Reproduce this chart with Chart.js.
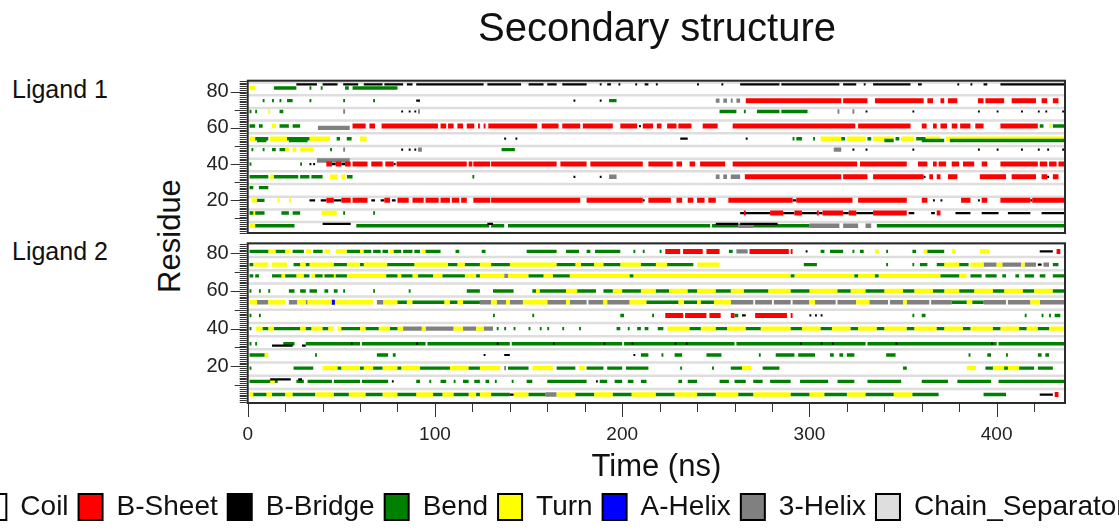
<!DOCTYPE html>
<html><head><meta charset="utf-8">
<script src="https://cdn.jsdelivr.net/npm/chart.js@4"></script>
<style>
html,body{margin:0;padding:0;width:1119px;height:529px;overflow:hidden;background:#fff;font-family:"Liberation Sans",Arial,sans-serif;color:#111;}
#w1{position:absolute;left:180px;top:0;width:954px;height:238px;}
#w2{position:absolute;left:-70px;top:238px;width:1248px;height:293px;}
.lbl{position:absolute;font-size:25px;white-space:nowrap;}
#res{position:absolute;left:170px;top:236px;transform:translate(-50%,-50%) rotate(-90deg);font-size:31px;white-space:nowrap;}
</style></head>
<body>
<div class="lbl" style="left:12px;top:75px">Ligand 1</div>
<div class="lbl" style="left:12px;top:237px">Ligand 2</div>
<div id="res">Residue</div>
<div id="w1"><canvas id="c1"></canvas></div>
<div id="w2"><canvas id="c2"></canvas></div>
<script>
// ---------------- DATA ----------------
const TITLE = 'Secondary structure';
const TIME_MAX = 436.5;
const X_TICKS = [0, 100, 200, 300, 400];
const Y_TICKS = [20, 40, 60, 80];
const SEPARATORS = [8, 15, 22, 29, 36, 43, 50, 57, 64, 71, 78, 85];
const CLASS_NAMES = ['Coil', 'B-Sheet', 'B-Bridge', 'Bend', 'Turn', 'A-Helix', '3-Helix', 'Chain_Separator'];
const CLASS_CODES = ['C', 'E', 'B', 'S', 'T', 'H', 'G', 'SEP'];

// Ligand 1: segments [start ns, end ns, DSSP code]
const L1_84 = [[26,37,'B'],[40,48,'B'],[51,59,'B'],[62,72,'B'],[73,83,'B'],[85,88,'B'],[90,126,'B'],[128,146,'B'],[150,158,'B'],[160,165,'B'],[168,181,'B'],[188,189,'B'],[192,194,'B'],[198,199,'B'],[207,208,'B'],[212,214,'B'],[218,219,'B'],[240,241,'B'],[253,254,'B'],[263,284,'B'],[285,316,'B'],[318,325,'B'],[329,330,'B'],[334,354,'B'],[358,360,'B'],[379,380,'B'],[386,387,'B'],[393,395,'B'],[402,436,'B']];
const L1_82 = [[1,4,'T'],[14,26,'S'],[33,34,'S'],[39,40,'S'],[52,54,'S'],[56,80,'S']];
const L1_75 = [[8,9,'S'],[13,14,'S'],[17,18,'S'],[21,24,'S'],[33,34,'S'],[51,52,'S'],[67,68,'S'],[90,92,'B'],[174,175,'B'],[188,189,'B'],[193,197,'S'],[250,252,'G'],[254,256,'G'],[258,259,'G'],[261,263,'G'],[266,317,'E'],[318,331,'E'],[335,361,'E'],[363,366,'E'],[370,372,'E'],[374,379,'E'],[390,393,'E'],[394,404,'E'],[408,421,'E'],[424,427,'E'],[430,433,'E']];
const L1_69 = [[1,2,'S'],[4,5,'S'],[11,12,'T'],[17,19,'S'],[51,52,'G'],[82,83,'B'],[86,87,'B'],[89,90,'B'],[91,92,'G'],[252,261,'S'],[265,266,'S'],[272,284,'S'],[285,299,'S'],[315,316,'G'],[323,324,'G'],[330,331,'B'],[355,356,'B'],[390,391,'B'],[400,401,'B'],[413,414,'B'],[422,423,'B'],[426,427,'B'],[435,436,'B']];
const L1_61 = [[1,4,'S'],[6,8,'S'],[13,15,'T'],[17,22,'S'],[24,28,'S'],[56,63,'E'],[65,68,'E'],[71.5,101.6,'E'],[103,106,'E'],[107,110,'E'],[112,115,'E'],[117,121,'E'],[123,124,'E'],[126,127,'E'],[128.5,154.6,'E'],[157,166,'E'],[168,177.6,'E'],[179,195,'E'],[199,208,'E'],[209,210,'B'],[211,216.5,'E'],[218.5,221,'E'],[224,229,'E'],[230,237,'E'],[243,251,'E'],[259,324.5,'E'],[326,354,'E'],[360,362.6,'E'],[366,368,'E'],[370,373.5,'E'],[376,379,'E'],[380.5,386,'E'],[388.6,393,'E'],[402,422,'E'],[423,425,'S'],[428,429,'T'],[430,436,'S']];
const L1_60 = [[37.5,54.5,'G']];
const L1_54 = [[1,4,'T'],[4,11,'S'],[12,21,'T'],[21,33,'S'],[33,44,'T'],[47.5,49.3,'S'],[52.9,55.5,'S'],[60,63.5,'T'],[137,138,'B'],[143,144,'B'],[231,235,'B'],[266,267,'B'],[291,292,'S'],[293,296,'S'],[302,303,'S'],[306,317,'T'],[317,319,'S'],[320,330,'T'],[331,333,'S'],[334,345,'T'],[346,348,'S'],[349,356,'T'],[357,362,'S'],[362,370,'T'],[373,436,'T']];
const L1_53 = [[5,10,'S'],[22,32,'S'],[340,345,'S'],[360,372,'S'],[375,436,'S']];
const L1_48 = [[2,3,'S'],[8,9,'S'],[13,15,'S'],[17,20,'S'],[20,22,'T'],[24,26,'T'],[28,35,'T'],[44,45,'S'],[51,52,'G'],[82,83,'B'],[86,87,'B'],[89,90,'B'],[91,93,'G'],[135.6,142.7,'S'],[313,317,'G'],[323,324,'B'],[330,331,'B'],[355,356,'B'],[390,391,'B'],[400,401,'B'],[413,414,'B'],[422,423,'B'],[427,428,'B'],[435,436,'B']];
const L1_42 = [[37,54.5,'G']];
const L1_40 = [[1,2,'S'],[28,29,'S'],[33,34,'B'],[35,36,'B'],[42,45,'E'],[45,47,'B'],[47,50,'E'],[50,52,'B'],[52,55,'E'],[56,64,'E'],[66,72,'E'],[73.5,78,'E'],[78,79,'B'],[79.5,117,'E'],[118,120,'E'],[120.5,129.5,'E'],[130,165,'E'],[167,181,'E'],[183,211,'E'],[214,227,'E'],[229,232,'E'],[236,239,'E'],[241.6,255,'E'],[259,325.5,'E'],[327,352,'E'],[358,363,'E'],[366,368,'E'],[369,373,'E'],[376,380,'E'],[382,388,'E'],[392,395,'E'],[402,422,'E'],[423,427,'E'],[428,432,'E'],[433,436,'E']];
const L1_33 = [[1,11,'S'],[12,14,'T'],[14,27,'S'],[28,33,'S'],[34,40,'S'],[44,48,'T'],[50,52,'T'],[53,56,'S'],[120,121,'S'],[174,175,'B'],[188,189,'B'],[193,197,'G'],[250,252,'G'],[254,256,'G'],[258,263,'G'],[265.5,317,'E'],[318,331,'E'],[334,361,'E'],[361,362,'B'],[364,366,'E'],[368,370,'E'],[374,379,'E'],[391,405,'E'],[408,421,'E'],[424,427,'E'],[427,428,'B'],[430,433,'E']];
const L1_27 = [[1,3,'S'],[6,11,'S']];
const L1_20 = [[2,5,'T'],[5,9,'S'],[16,17,'T'],[22,23,'T'],[33,36,'B'],[39,42,'B'],[42,46,'E'],[46,50,'B'],[50,55,'E'],[56,64,'E'],[66,68,'B'],[71,73,'B'],[73,76,'E'],[77,79,'B'],[80,86,'E'],[88,94,'E'],[95,102,'E'],[103,108,'E'],[109,113,'E'],[114,117,'E'],[120.5,129.5,'E'],[130,177.6,'E'],[181,211,'E'],[211,212,'B'],[214,226,'E'],[229,232,'E'],[235,238,'E'],[240,244,'E'],[246,250,'E'],[256.7,291,'E'],[291,293,'B'],[293,323,'E'],[326,352,'E'],[360,363,'E'],[366,367,'B'],[370,371,'B'],[381,386,'E'],[390,391,'B'],[392,395,'E'],[402,418,'E'],[418,419,'B'],[419,436,'E']];
const L1_13 = [[1,3,'S'],[3,4,'T'],[4,9,'S'],[18,22,'S'],[24,28,'S'],[39.5,47.5,'T'],[51,52,'S'],[67,68,'S'],[263,279,'B'],[265,266,'E'],[279,286,'E'],[286,292,'B'],[292,296,'E'],[296,304,'B'],[304,305,'E'],[305,307,'B'],[307,318,'E'],[318,321,'B'],[321,325,'E'],[325,334,'B'],[334,352,'E'],[353,356,'B'],[365,367,'B'],[368,370,'E'],[378,386,'B'],[392,401,'B'],[406,418,'B'],[424,436,'B']];
const L1_7 = [[40,55,'B'],[128,131,'B'],[250,262,'B'],[263,283,'B']];
const L1_6 = [[1,4,'T'],[4,25,'S'],[58,129,'S'],[130,137,'S'],[139,247,'S'],[248,262,'S'],[262,270,'G'],[270,300,'S'],[300,316,'G'],[318,326,'G'],[330,333,'G'],[336,436,'S']];

// Ligand 2
const L2_81 = [[1,11,'S'],[11,15,'T'],[15,20,'S'],[20,23,'T'],[24,30,'S'],[31,34,'T'],[35,40,'S'],[41,44,'T'],[47,53,'T'],[53,60,'S'],[60,62,'T'],[62,66,'S'],[67,71,'S'],[72,75,'S'],[76,78,'T'],[78,82,'S'],[83,88,'S'],[89,92,'S'],[93,95,'T'],[95,103,'S'],[111,113,'S'],[125,127,'S'],[149,165,'S'],[170,177,'S'],[181,183,'S'],[185.5,199,'S'],[206,207,'S'],[211,212,'S'],[220,221,'S'],[223,231,'E'],[232.5,243,'E'],[245,252,'E'],[257,259,'S'],[261,267,'G'],[268,289,'E'],[290,291,'E'],[298,299,'B'],[306,308,'S'],[311,318,'S'],[323,324,'S'],[327,329,'S'],[335,337,'T'],[341,342,'S'],[355,357,'S'],[361,363,'T'],[363,372,'S'],[376,378,'T'],[391,396,'T'],[423,430,'B'],[432,434,'E']];
const L2_74 = [[1,3,'S'],[3.5,11,'T'],[13,21,'T'],[24.5,28,'S'],[28,31,'T'],[31,33,'S'],[33,46,'T'],[46,53,'S'],[53,60,'T'],[60,62,'S'],[62,74.5,'T'],[74.5,89,'S'],[89,107,'T'],[107,112,'S'],[112,116,'T'],[116,124,'S'],[124,130,'T'],[130,140,'S'],[140,165,'T'],[165,175,'S'],[175,178,'T'],[178,185,'S'],[185,190,'T'],[190,199,'S'],[199,210,'T'],[210,218,'S'],[218,224,'T'],[224,238,'S'],[240,252,'T'],[297,304,'S'],[341,342,'S'],[355,356,'S'],[359,363,'S'],[368,372,'S'],[372,380,'T'],[380,385,'S'],[386,393,'T'],[393,400,'G'],[400,403,'T'],[403,413,'G'],[413,415,'T'],[415,421,'G'],[422,424,'B'],[425,428,'G'],[430,433,'S']];
const L2_68 = [[1,3,'S'],[4,6,'S'],[13,18,'S'],[18,20,'T'],[20,26,'S'],[26,30,'T'],[30,33,'S'],[34,36,'T'],[36,40,'S'],[40,41,'T'],[41,46,'S'],[46,47,'T'],[47,53,'S'],[53,74,'T'],[74,80,'S'],[80,82,'T'],[82,88,'S'],[88,91,'T'],[91,99,'S'],[99,104,'T'],[104,116,'S'],[116,122,'T'],[122,124,'S'],[124,137,'T'],[137,139,'G'],[139,150,'T'],[150,158,'S'],[158,163,'T'],[163,172,'S'],[172,204,'T'],[204,206,'S'],[206,290,'T'],[290,292,'S'],[292,324,'T'],[324,326,'S'],[326,335,'T'],[335,337,'S'],[337,370,'T'],[370,380,'S'],[380,384,'T'],[386,392,'S'],[394,400,'S'],[403,405,'S'],[410,412,'S'],[415,420,'S'],[423,426,'S'],[430,436,'S']];
const L2_60 = [[1,2,'S'],[6,7,'S'],[11,12,'S'],[22,25,'S'],[28,31,'S'],[33,37,'S'],[41,43,'S'],[46,48,'S'],[51,52,'S'],[67,68,'S'],[86,87,'S'],[117,124,'S'],[131,142,'S'],[152,154,'S'],[154,156,'T'],[156,170,'S'],[170,176,'T'],[176,186,'S'],[190,195,'S'],[195,200,'T'],[200,210,'S'],[210,218,'T'],[218,225,'S'],[225,235,'T'],[235,240,'S'],[240,250,'T'],[250,258,'S'],[258,265,'T'],[265,278,'S'],[278,290,'T'],[290,300,'S'],[300,315,'T'],[315,322,'S'],[322,330,'T'],[330,340,'S'],[340,350,'T'],[350,356,'S'],[356,366,'T'],[366,372,'S'],[372,380,'T'],[380,388,'S'],[388,398,'T'],[398,404,'S'],[404,414,'T'],[414,420,'S'],[420,430,'T'],[430,436,'S']];
const L2_54 = [[1,5,'T'],[5,11,'G'],[11,20,'T'],[22,26.5,'G'],[26.5,31,'T'],[31,32,'G'],[32,44.8,'T'],[44.8,46.6,'H'],[46.6,67,'T'],[69,72.5,'G'],[72.5,80,'T'],[80,85,'S'],[85,88,'T'],[88,105,'S'],[105,108,'T'],[108,112,'S'],[112,115,'T'],[115,124,'S'],[124,130,'G'],[130,133,'T'],[133,138,'G'],[138,140,'T'],[140,147,'G'],[147,160,'T'],[160,170,'G'],[170,172,'T'],[172,181,'G'],[182,190,'G'],[190,192,'T'],[192,204,'G'],[204,213,'T'],[213,230,'S'],[230,233,'T'],[233,240,'S'],[240,242,'T'],[242,249,'S'],[249,258,'T'],[258,270,'G'],[271,280,'G'],[281,290,'G'],[291,300,'G'],[300,303,'T'],[303,314,'G'],[315,325,'G'],[325,332,'T'],[332,342,'G'],[343,350,'G'],[350,352,'T'],[352,364,'G'],[365,376,'G'],[376,384,'S'],[384,387,'T'],[387,393,'S'],[393,405,'G'],[406,418,'G'],[418,423,'T'],[423,436,'G']];
const L2_47 = [[1,2,'S'],[6,7,'S'],[131,132,'S'],[152,153,'S'],[199,201,'S'],[216,217,'S'],[223,232.6,'E'],[233.6,245,'E'],[246.6,252.6,'E'],[258,260,'E'],[260,262,'S'],[264,266,'B'],[271,288,'E'],[290,291,'E'],[300,301,'B'],[303,304,'B'],[306,307,'B'],[355,356,'S'],[360,362,'S'],[415,416,'S'],[424,425,'S'],[428,429,'S'],[431,434,'S']];
const L2_40 = [[1,2,'S'],[4.5,8,'T'],[8,11,'S'],[11,14,'T'],[14,28,'S'],[28,31,'T'],[31,34,'S'],[34,40,'T'],[40,43,'S'],[43,46,'T'],[48,50,'T'],[50,60,'S'],[60,63,'T'],[63,70,'S'],[70,76,'T'],[76,80,'S'],[80,83,'T'],[83,93,'G'],[93,95,'T'],[95,110,'G'],[110,115,'T'],[115,122,'G'],[122,126,'T'],[126,131,'G'],[133,134,'S'],[137,138,'S'],[142,143,'S'],[150,151,'S'],[156,157,'S'],[160,161,'S'],[168,169,'S'],[177,178,'S'],[197,199,'S'],[203,204,'S'],[208,210,'S'],[212,214,'S'],[219,222,'S'],[224,236,'T'],[236,242,'S'],[242,250,'T'],[250,256,'S'],[256,266,'T'],[266,274,'S'],[274,290,'T'],[290,296,'S'],[296,306,'T'],[306,312,'S'],[312,322,'T'],[322,326,'S'],[326,336,'T'],[336,340,'S'],[340,352,'T'],[352,356,'S'],[356,368,'T'],[368,372,'S'],[372,382,'T'],[382,386,'S'],[386,398,'T'],[398,402,'S'],[402,412,'T'],[412,416,'S'],[416,422,'T'],[422,428,'S'],[428,436,'T']];
const L2_32 = [[1,2,'S'],[4,5,'S'],[19,25,'S'],[31,60,'S'],[61,95,'S'],[96,140,'S'],[141,200,'S'],[201,260,'S'],[261,330,'S'],[331,400,'S'],[401,436,'S'],[55,56,'B'],[90,91,'B'],[133,134,'B'],[163,164,'B'],[190,191,'B'],[205,206,'B'],[228,229,'B'],[234,235,'B'],[295,296,'B'],[306,307,'B'],[312,313,'B'],[346,347,'B'],[397,398,'B']];
const L2_31 = [[13,24,'B'],[29,31,'B']];
const L2_26 = [[1,9,'S'],[9,11,'T'],[36,37,'S'],[69,75,'S'],[77.5,79,'S'],[126,127,'B'],[137,140,'B'],[206,207,'B'],[210,214,'S'],[221,222,'S'],[228,232,'S'],[245,253,'S'],[273,274,'S'],[282,292,'S'],[294,303,'S'],[311,313,'S'],[316,318,'S'],[320,324,'S'],[341,346,'S'],[385,386,'S'],[395,397,'S'],[405,406,'S'],[422,424,'S'],[426,428,'S']];
const L2_19 = [[1,2,'S'],[24.5,35,'S'],[40,48,'T'],[48,50,'S'],[50,60,'T'],[60,62,'S'],[62,67,'T'],[67,72,'S'],[72,80,'T'],[80,82,'S'],[82,92,'T'],[92,108,'S'],[108,118,'T'],[118,124,'S'],[124,135,'T'],[137,138,'G'],[139,150,'S'],[152,163,'T'],[165,175,'S'],[177,180,'T'],[181,190,'S'],[192,200,'S'],[202,214,'S'],[231,232,'S'],[248,249,'S'],[258,264,'S'],[264,269,'T'],[275,284,'S'],[350,352,'S'],[384,389,'T'],[394,398,'S'],[398,412,'T'],[404,406,'S'],[412,420,'S'],[422,430,'S']];
const L2_13 = [[12,23,'B'],[27,29,'B']];
const L2_12 = [[1,12,'S'],[12,14.5,'T'],[14.5,16,'S'],[26,30,'S'],[32,45,'S'],[46,60,'S'],[61,75,'S'],[77,78,'B'],[90,92,'S'],[97,98,'S'],[103,106,'S'],[110,111,'S'],[115,118,'S'],[121,124,'S'],[127,129,'S'],[132,133,'S'],[141,142,'S'],[149,152,'S'],[160,181,'S'],[186,187,'B'],[188,192,'S'],[196,200,'S'],[203,206,'S'],[210,213,'S'],[230,232,'S'],[235,240,'S'],[252,257,'S'],[260,266,'S'],[270,275,'S'],[279,290,'S'],[295,310,'S'],[315,324,'S'],[331,349,'S'],[360,374,'S'],[379,397,'S'],[401,436,'S']];
const L2_5 = [[1,3,'T'],[3,10,'S'],[10,13,'T'],[13,20,'S'],[20,24,'T'],[24,36,'S'],[36,46,'T'],[46,54,'S'],[54,63,'T'],[63,72,'S'],[72,80,'T'],[80,90,'S'],[90,99,'T'],[99,104,'S'],[104,110,'T'],[110,118,'S'],[118,122,'T'],[122,124,'S'],[124,130,'T'],[130,140,'S'],[140,142,'B'],[142,150,'T'],[150,159,'S'],[159,165,'G'],[165,175,'T'],[175,185,'S'],[185,195,'T'],[195,205,'S'],[205,218,'T'],[218,228,'S'],[228,240,'T'],[240,250,'S'],[250,262,'T'],[262,270,'S'],[270,290,'T'],[290,300,'S'],[300,308,'T'],[308,320,'S'],[320,330,'T'],[330,345,'S'],[345,355,'T'],[355,369,'S'],[393,405,'S'],[423,430,'B'],[431,433,'E']];

// residue -> segment list
const LIGAND1_ROWS = [[84,L1_84],[82,L1_82],[75,L1_75],[69,L1_69],[61,L1_61],[60,L1_60],[54,L1_54],[53,L1_53],[48,L1_48],[42,L1_42],[40,L1_40],[33,L1_33],[27,L1_27],[20,L1_20],[13,L1_13],[7,L1_7],[6,L1_6]];
const LIGAND2_ROWS = [[81,L2_81],[74,L2_74],[68,L2_68],[60,L2_60],[54,L2_54],[47,L2_47],[40,L2_40],[32,L2_32],[31,L2_31],[26,L2_26],[19,L2_19],[13,L2_13],[12,L2_12],[5,L2_5]];

// ---------------- STYLE ----------------
const FONT = '"Liberation Sans", Arial, sans-serif';
const COLORS = {C:'#ffffff',E:'#ff0000',B:'#000000',S:'#008000',T:'#ffff00',H:'#0000ff',G:'#808080',SEP:'#dedede'};
const THICK = {C:4,E:5,B:2.2,S:3.4,T:4.4,H:5,G:4.4,SEP:2.5};

Chart.defaults.font.family = FONT;
Chart.defaults.color = '#222';

const framePlugin = {
  id: 'frame',
  afterDatasetsDraw(chart, args, opts) {
    const {ctx, chartArea: a} = chart;
    const ys = chart.scales.y;
    ctx.save();
    ctx.strokeStyle = '#333';
    ctx.lineWidth = 1;
    for (let v = Math.ceil(ys.min); v <= Math.floor(ys.max); v++) {
      const len = v % 20 === 0 ? 16 : (v % 10 === 0 ? 12 : 7);
      const py = Math.round(ys.getPixelForValue(v)) + 0.5;
      ctx.beginPath(); ctx.moveTo(a.left - 1, py); ctx.lineTo(a.left - 1 - len, py); ctx.stroke();
    }
    if (opts.xTicks) {
      const xs = chart.scales.x;
      for (let v = 0; v <= xs.max; v += 20) {
        const len = v % 100 === 0 ? 13 : 8;
        const px = Math.round(xs.getPixelForValue(v)) + 0.5;
        ctx.beginPath(); ctx.moveTo(px, a.bottom + 1); ctx.lineTo(px, a.bottom + 1 + len); ctx.stroke();
      }
    }
    ctx.strokeStyle = '#2b2b2b';
    ctx.lineWidth = 2;
    ctx.strokeRect(a.left, a.top, a.right - a.left, a.bottom - a.top);
    ctx.restore();
  }
};

function buildDatasets(rows) {
  return CLASS_CODES.map((code, i) => {
    const data = [];
    if (code === 'SEP') {
      SEPARATORS.forEach(r => data.push({x: [0, TIME_MAX], y: r}));
    } else {
      rows.forEach(([res, segs]) => segs.forEach(([s, e, c]) => { if (c === code) data.push({x: [s, e], y: res}); }));
    }
    return {label: CLASS_NAMES[i], data, backgroundColor: COLORS[code], borderColor: '#000', borderWidth: 0,
            barThickness: THICK[code], grouped: false, inflateAmount: 0, xAxisID: 'x', yAxisID: 'y'};
  });
}

function noPad(s) { s.paddingTop = 0; s.paddingBottom = 0; }
function yScale(min, max, width) {
  return {type: 'linear', position: 'left', min, max, offset: false,
    afterBuildTicks: s => { s.ticks = Y_TICKS.map(v => ({value: v})); },
    afterFit: s => { s.width = width; noPad(s); },
    grid: {display: false, drawTicks: false}, border: {display: false},
    ticks: {font: {size: 20}, color: '#222', padding: 19, autoSkip: false}};
}
function dummyRight(width) {
  return {type: 'linear', position: 'right', afterFit: s => { s.width = width; noPad(s); },
    grid: {display: false, drawTicks: false}, border: {display: false}, ticks: {display: false}};
}

new Chart(document.getElementById('c1'), {
  type: 'bar',
  data: {datasets: buildDatasets(LIGAND1_ROWS)},
  options: {
    indexAxis: 'y', responsive: true, maintainAspectRatio: false, animation: false,
    layout: {padding: {top: 0, bottom: 5, left: 0, right: 0}},
    plugins: {
      title: {display: true, text: TITLE, color: '#111', font: {size: 40, weight: 'normal'}, padding: {top: 6, bottom: 26.7}},
      legend: {display: false}, tooltip: {enabled: false}, frame: {xTicks: false}
    },
    scales: {
      x: {type: 'linear', min: 0, max: TIME_MAX, display: false},
      y: yScale(2, 86, 67.7),
      yr: dummyRight(69)
    }
  },
  plugins: [framePlugin]
});

new Chart(document.getElementById('c2'), {
  type: 'bar',
  data: {datasets: buildDatasets(LIGAND2_ROWS)},
  options: {
    indexAxis: 'y', responsive: true, maintainAspectRatio: false, animation: false,
    layout: {padding: {top: 5.3, bottom: 0, left: 0, right: 0}},
    plugins: {
      title: {display: false},
      tooltip: {enabled: false},
      frame: {xTicks: true},
      legend: {
        display: true, position: 'bottom', onClick: () => {},
        labels: {
          font: {size: 28}, color: '#111', boxWidth: 24, boxHeight: 26, padding: 10,
          generateLabels: chart => Chart.defaults.plugins.legend.labels.generateLabels(chart)
            .map(l => Object.assign(l, {strokeStyle: '#000', lineWidth: 2}))
        }
      }
    },
    scales: {
      x: {type: 'linear', position: 'bottom', min: 0, max: TIME_MAX, offset: false,
        afterBuildTicks: s => { s.ticks = X_TICKS.map(v => ({value: v})); },
        afterFit: s => { s.height = 80; s.paddingLeft = 0; s.paddingRight = 0; },
        grid: {display: false, drawTicks: false}, border: {display: false},
        ticks: {font: {size: 19}, color: '#222', padding: 20, maxRotation: 0, autoSkip: false},
        title: {display: true, text: 'Time (ns)', color: '#111', font: {size: 31, lineHeight: 1}, padding: {top: 0, bottom: 0}}
      },
      y: yScale(0.5, 85.3, 317.7),
      yr: dummyRight(113)
    }
  },
  plugins: [framePlugin]
});
</script>
</body></html>
